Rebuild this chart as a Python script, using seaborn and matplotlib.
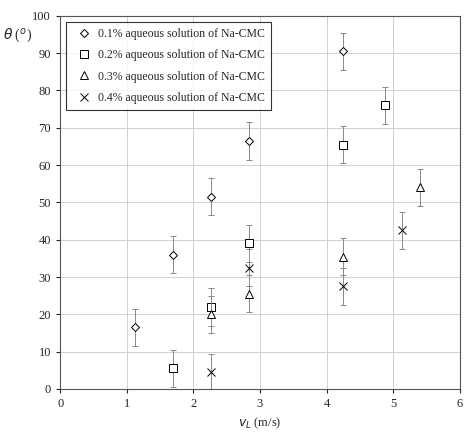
import matplotlib
matplotlib.use("Agg")
import matplotlib.pyplot as plt
import seaborn as sns
import pandas as pd

sns.set_style("white")
plt.rcParams['font.family'] = ['Liberation Serif', 'DejaVu Serif']

x1 = [1.13, 1.70, 2.26, 2.83, 4.25]
y1 = [16.5, 36.0, 51.5, 66.5, 90.5]
x2 = [1.70, 2.26, 2.83, 4.25, 4.87]
y2 = [5.5, 22.0, 39.0, 65.5, 76.0]
x3 = [2.26, 2.83, 4.25, 5.40]
y3 = [20.0, 25.5, 35.5, 54.0]
x4 = [2.26, 2.83, 4.25, 5.13]
y4 = [4.5, 32.5, 27.5, 42.5]
err = 5.0
labels = ["0.1% aqueous solution of Na-CMC", "0.2% aqueous solution of Na-CMC",
          "0.3% aqueous solution of Na-CMC", "0.4% aqueous solution of Na-CMC"]
markers = ["D", "s", "^", "x"]
sizes = [4, 5.5, 5.5, 5.5]

fig, ax = plt.subplots(figsize=(4.74, 4.41), dpi=100)
for xs, ys, lab, m, s in zip([x1, x2, x3, x4], [y1, y2, y3, y4], labels, markers, sizes):
    ax.errorbar(xs, ys, yerr=err, fmt='none', ecolor='#888888', elinewidth=0.7, capsize=2, capthick=0.7)
    df = pd.DataFrame({"x": xs, "y": ys})
    ax.plot(df.x, df.y, linestyle='none', marker=m, markersize=s,
            markerfacecolor='white' if m != 'x' else 'black', markeredgecolor='black',
            markeredgewidth=0.7, label=lab)

ax.set_xlim(0, 6)
ax.set_ylim(0, 100)
ax.set_xticks(range(0, 7))
ax.set_yticks(range(0, 101, 10))
ax.grid(True, color='#d0d0d0', linewidth=0.7)
ax.set_axisbelow(True)
for sp in ax.spines.values():
    sp.set_color('#555555'); sp.set_linewidth(0.8)
ax.tick_params(labelsize=9, length=3, direction='out', left=True, bottom=True)
ax.set_xlabel(r"$v_L$ (m/s)", fontsize=9)
ax.text(-0.07, 0.97, r"$\theta$ ($^o$)", transform=ax.transAxes, ha='right', va='top', fontsize=10)
leg = ax.legend(loc='upper left', fontsize=8.5, frameon=True, fancybox=False,
                edgecolor='black', handletextpad=0.2, borderpad=0.5, labelspacing=0.8)
leg.get_frame().set_linewidth(0.8)
fig.subplots_adjust(left=0.127, right=0.97, top=0.964, bottom=0.118)
fig.savefig("out.png", dpi=100)
